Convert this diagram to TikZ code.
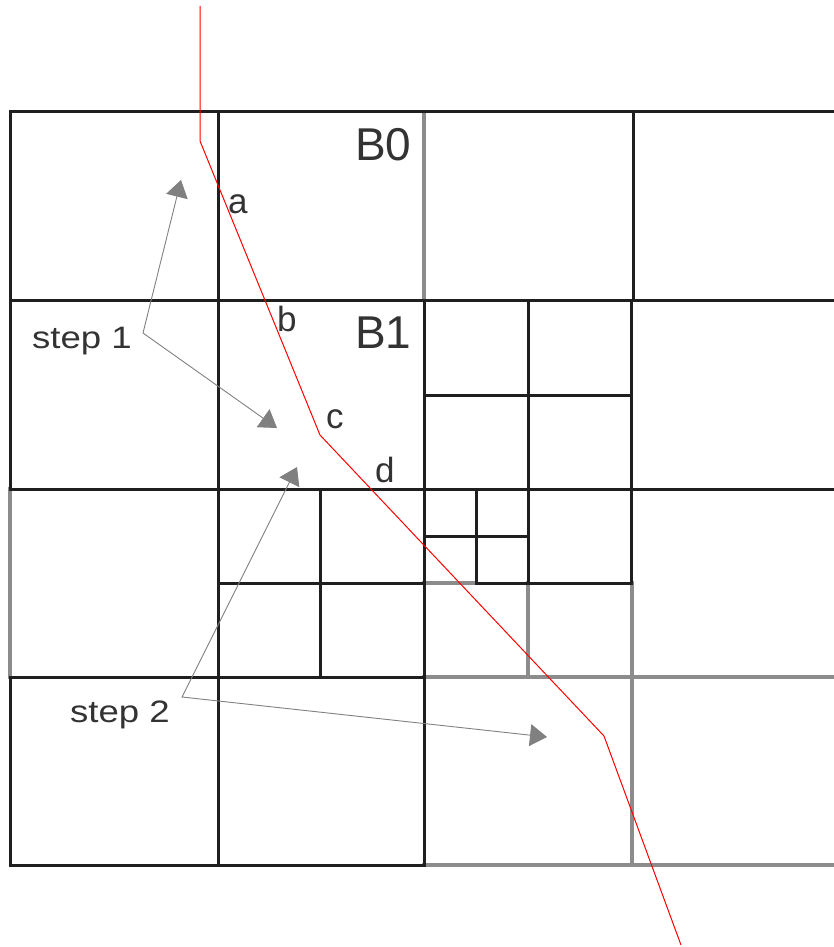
\documentclass[tikz,border=0pt]{standalone}
\usepackage{fontspec}
\usepackage{graphicx}
\setmainfont{Liberation Sans}
\usetikzlibrary{arrows.meta}
\definecolor{txt}{HTML}{333333}
\definecolor{arr}{HTML}{808080}
\tikzset{
  blk/.style={draw=black!88, line width=3pt, line cap=rect},
  gry/.style={draw=black!45, line width=3.4pt, line cap=rect},
  ray/.style={draw=red, line width=1pt},
  stepline/.style={draw=arr, line width=0.9pt, {Triangle[length=17pt,width=22pt]}-{Triangle[length=17pt,width=22pt]}},
  big/.style={text=txt, inner sep=0pt, anchor=base west, font=\fontsize{46}{50}\selectfont},
  pt/.style={text=txt, inner sep=0pt, anchor=base west, font=\fontsize{35}{38}\selectfont},
  steplbl/.style={text=txt, inner sep=0pt, anchor=base west, font=\fontsize{31}{35}\selectfont}
}
\begin{document}
\begin{tikzpicture}[x=1pt, y=-1pt]
\useasboundingbox (0,0) rectangle (834,947);
% gray lines (underneath)
\draw[gry] (424,112) -- (424,300);
\draw[gry] (10,489) -- (10,677);
\draw[gry] (424,677) -- (834,677);
\draw[gry] (424,865) -- (834,865);
\draw[gry] (632,583) -- (632,865);
\draw[gry] (528,583) -- (528,677);
\draw[gry] (424,583) -- (476,583);
% black lines
\draw[blk] (10,112) -- (834,112);
\draw[blk] (10,300) -- (834,300);
\draw[blk] (10,489) -- (834,489);
\draw[blk] (10,677) -- (424,677);
\draw[blk] (10,865) -- (424,865);
\draw[blk] (10,112) -- (10,489);
\draw[blk] (10,677) -- (10,865);
\draw[blk] (218,112) -- (218,865);
\draw[blk] (424,300) -- (424,865);
\draw[blk] (633,112) -- (633,300);
\draw[blk] (631,300) -- (631,583);
% subdivision of row 2, column 3
\draw[blk] (528,300) -- (528,583);
\draw[blk] (424,395) -- (631,395);
% subdivision of row 3, column 2
\draw[blk] (320,489) -- (320,677);
\draw[blk] (218,583) -- (424,583);
% finer subdivision in row 3, column 3
\draw[blk] (476,489) -- (476,583);
\draw[blk] (424,536) -- (528,536);
\draw[blk] (476,583) -- (631,583);
% red ray
\coordinate (r0) at (200,6);
\coordinate (r1) at (200,141);
\coordinate (r2) at (320,435);
\coordinate (r3) at (604,736);
\coordinate (r4) at (681,945);
\draw[ray] (r0) -- (r1) -- (r2) -- (r3) -- (r4);
% labels
\node[big] (B0) at (355,160) {B0};
\node[big] (B1) at (355,348) {B1};
\node[pt] (la) at (228,213) {a};
\node[pt] (lb) at (277,331) {b};
\node[pt] (lc) at (326,428) {c};
\node[pt] (ld) at (375,482) {d};
\node[steplbl] (s1) at (32,348) {\scalebox{1.18}[1]{step 1}};
\node[steplbl] (s2) at (70,722) {\scalebox{1.18}[1]{step 2}};
% step arrows
\coordinate (c1) at (143,333);
\coordinate (t1a) at (181,180);
\coordinate (t1b) at (277,428);
\coordinate (c2) at (182,697);
\coordinate (t2a) at (297,467);
\coordinate (t2b) at (547,737);
\draw[stepline] (t1a) -- (c1) -- (t1b);
\draw[stepline] (t2a) -- (c2) -- (t2b);
\end{tikzpicture}
\end{document}
